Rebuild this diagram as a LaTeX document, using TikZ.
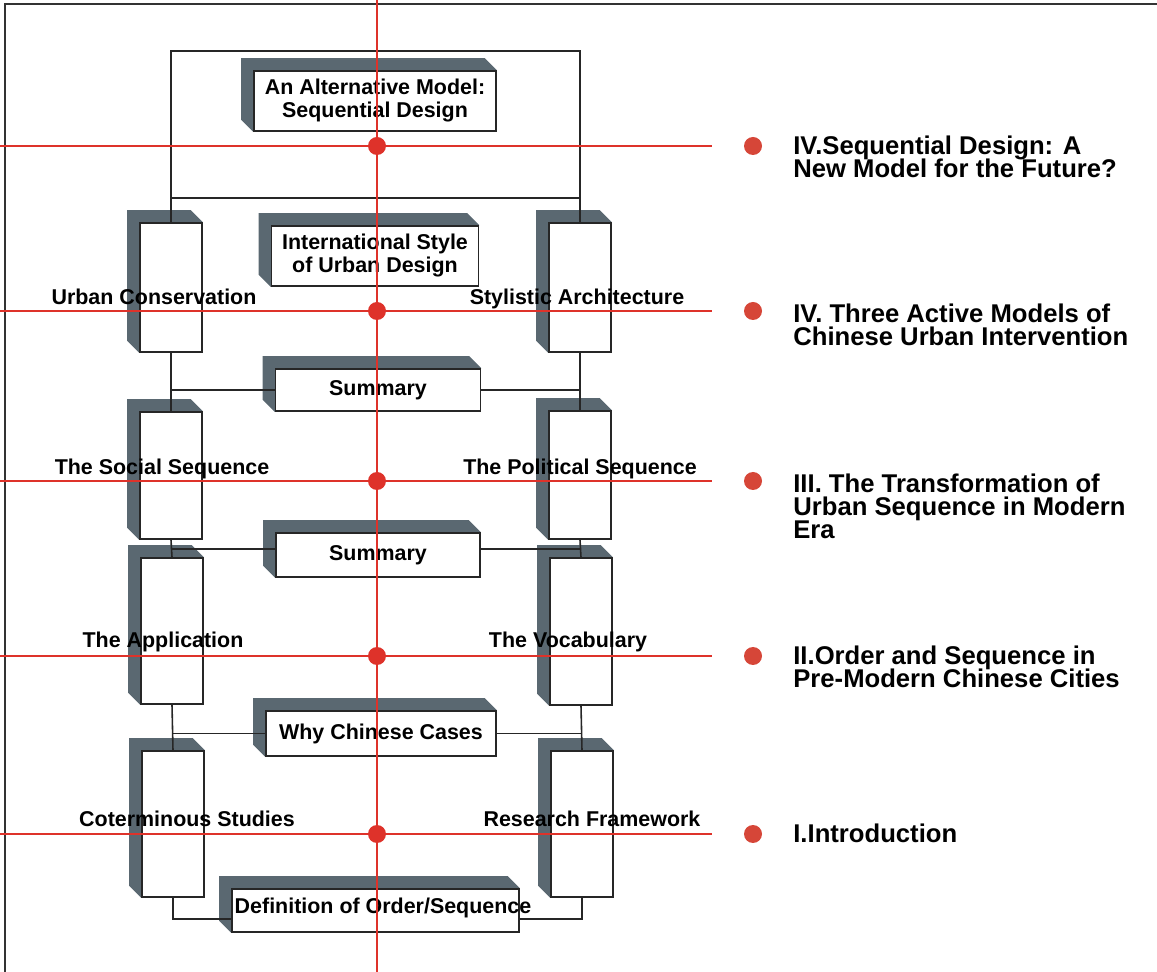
\documentclass[tikz,border=0pt]{standalone}
\usepackage{fontspec}
\setmainfont{Liberation Sans}
\usetikzlibrary{backgrounds}
\definecolor{shadeGray}{RGB}{90,104,113}
\definecolor{lineRed}{RGB}{222,50,42}
\definecolor{dotRed}{RGB}{214,70,56}
\lineskiplimit=-50pt

\begin{document}
\begin{tikzpicture}[x=0.02cm, y=-0.02cm,
    dims/.style 2 args={minimum width=#1*0.02cm, minimum height=#2*0.02cm},
    box/.style={draw=black!85, fill=white, line width=0.9pt, inner sep=0pt, align=center,
        font=\fontsize{12.2}{13.1}\selectfont\bfseries},
    side/.style={anchor=base, inner sep=0pt, font=\fontsize{12.2}{13.1}\selectfont\bfseries},
    chapter/.style={anchor=base west, inner sep=0pt, align=left,
        font=\fontsize{14.6}{13.1}\selectfont\bfseries},
    link/.style={draw=black!85, line width=0.9pt},
    guide/.style={lineRed, line width=1.2pt}
]
    \newcommand{\boxShadow}[1]{
        \fill[shadeGray] (#1.south west) -- ++(-12,-12) |- ([shift={(-12,-12)}]#1.north east) -- (#1.north east) -- cycle;
    }
    \newcommand{\redDot}[2]{
        \fill[#1] (#2) circle (0.18cm);
    }
    \useasboundingbox (0,0) rectangle (1157,972);
    \draw[black!80, line width=1.1pt] (5,972) -- (5,4) -- (1157,4);

    % centre column
    \node[box, dims={242}{60}] (alternative) at (375,101) {An Alternative Model:\\Sequential Design};
    \node[box, dims={207}{60}] (international) at (375,256) {International Style\\of Urban Design};
    \node[box, dims={205}{42}] (summaryA) at (378,390) {Summary};
    \node[box, dims={204}{44}] (summaryB) at (378,555) {Summary};
    \node[box, dims={230}{45}] (whyChinese) at (381,733.5) {Why Chinese Cases};
    \node[box, dims={287}{43}] (definition) at (375.5,910.5) {};
    \node[side] (definitionText) at (383,914) {Definition of Order/Sequence};

    % side columns
    \node[box, dims={62}{129}] (urban) at (171,287.5) {};
    \node[box, dims={62}{129}] (stylistic) at (580,287.5) {};
    \node[box, dims={62}{127}] (social) at (171,475.5) {};
    \node[box, dims={62}{128}] (political) at (580,475) {};
    \node[box, dims={62}{146}] (application) at (172,631) {};
    \node[box, dims={62}{147}] (vocabulary) at (581,631.5) {};
    \node[box, dims={62}{146}] (coterminous) at (173,824) {};
    \node[box, dims={62}{146}] (research) at (582,824) {};

    \begin{scope}[on background layer]
        \foreach \n in {alternative,international,summaryA,summaryB,whyChinese,definition,
            urban,stylistic,social,political,application,vocabulary,coterminous,research}
            {\boxShadow{\n}}
    \end{scope}

    \node[side] (urbanText) at (154,305) {Urban Conservation};
    \node[side] (stylisticText) at (577,305) {Stylistic Architecture};
    \node[side] (socialText) at (162,475) {The Social Sequence};
    \node[side] (politicalText) at (580,475) {The Political Sequence};
    \node[side] (applicationText) at (163,648) {The Application};
    \node[side] (vocabularyText) at (568,648) {The Vocabulary};
    \node[side] (coterminousText) at (187,827) {Coterminous Studies};
    \node[side] (researchText) at (592,827) {Research Framework};

    \coordinate (topR) at (580,51);
    \coordinate (bar) at (0,198);
    \coordinate (branchB) at (0,549);
    \coordinate (bottom) at (0,919);
    \draw[link] (urban.north) |- (topR) -- (stylistic.north);
    \draw[link] (urban.north |- bar) -- (stylistic.north |- bar);
    \draw[link] (urban.south) -- (social.north);
    \draw[link] (social.south) -- (application.north);
    \draw[link] (application.south) -- (coterminous.north);
    \draw[link] (stylistic.south) -- (political.north);
    \draw[link] (political.south) -- (vocabulary.north);
    \draw[link] (vocabulary.south) -- (research.north);
    \draw[link] (summaryA.west) -- (summaryA.west -| urban.south);
    \draw[link] (summaryA.east) -- (summaryA.east -| stylistic.south);
    \draw[link] (social.south |- branchB) -- (summaryB.west |- branchB);
    \draw[link] (political.south |- branchB) -- (summaryB.east |- branchB);
    \draw[link] (whyChinese.west) -- (whyChinese.west -| application.south);
    \draw[link] (whyChinese.east) -- (whyChinese.east -| vocabulary.south);
    \draw[link] (coterminous.south) |- (definition.west |- bottom);
    \draw[link] (research.south) |- (definition.east |- bottom);

    % chapters (anchored on the last line)
    \node[chapter] (chapterFive) at (793,178) {IV.Sequential Design: A\\New Model for the Future?};
    \node[chapter] (chapterFour) at (793,346) {IV. Three Active Models of\\Chinese Urban Intervention};
    \node[chapter] (chapterThree) at (793,539) {III. The Transformation of\\Urban Sequence in Modern\\Era};
    \node[chapter] (chapterTwo) at (793,688) {II.Order and Sequence in\\Pre-Modern Chinese Cities};
    \node[chapter] (chapterOne) at (793,843) {I.Introduction};

    \draw[guide] (377,0) -- (377,972);
    \foreach \y in {146,311,481,656,834} {
        \draw[guide] (0,\y) -- (712,\y);
        \redDot{lineRed}{377,\y}
        \redDot{dotRed}{753,\y}
    }
\end{tikzpicture}
\end{document}
